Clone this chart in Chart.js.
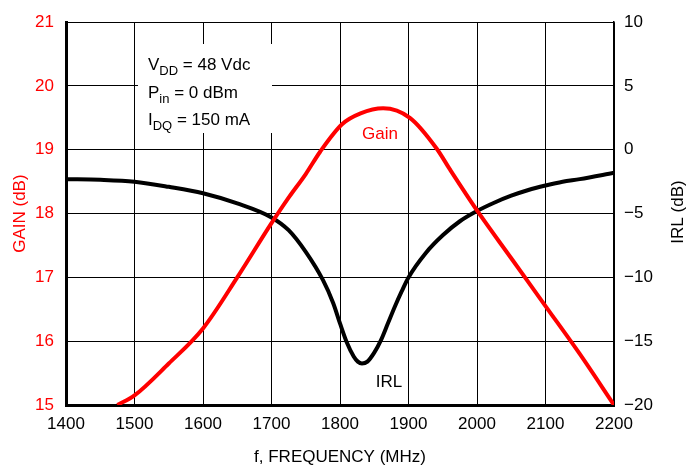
<!DOCTYPE html>
<html>
<head>
<meta charset="utf-8">
<script src="https://cdn.jsdelivr.net/npm/chart.js@4.4.1/dist/chart.umd.min.js"></script>
<style>
  html, body { margin: 0; padding: 0; background: #fff; }
  #wrap { width: 689px; height: 468px; }
</style>
</head>
<body>
<div id="wrap"><canvas id="chart" width="689" height="468"></canvas></div>
<script>
// Frequency ticks (MHz)
const freqTicks = [1400, 1500, 1600, 1700, 1800, 1900, 2000, 2100, 2200];

// Gain curve (dB)
const gainFreq = [1475, 1500, 1550, 1600, 1650, 1700, 1725, 1750, 1771, 1803, 1830, 1863, 1902, 1941, 1960, 2000, 2050, 2100, 2150, 2200];
const gainVals = [15.0, 15.15, 15.65, 16.2, 17.0, 17.85, 18.25, 18.62, 18.97, 19.4, 19.57, 19.65, 19.5, 19.02, 18.7, 18.05, 17.3, 16.55, 15.8, 15.0];

// IRL curve (dB)
const irlFreq = [1400, 1450, 1500, 1550, 1600, 1650, 1700, 1725, 1750, 1775, 1790, 1800, 1810, 1820, 1826, 1832, 1840, 1850, 1860, 1870, 1880, 1890, 1900, 1925, 1950, 1975, 2000, 2025, 2050, 2075, 2100, 2125, 2150, 2200];
const irlVals = [-2.3, -2.35, -2.5, -2.9, -3.4, -4.2, -5.3, -6.3, -8.0, -10.2, -12.0, -13.6, -15.1, -16.2, -16.6, -16.75, -16.6, -15.9, -14.9, -13.6, -12.3, -11.1, -10.0, -8.1, -6.7, -5.6, -4.8, -4.15, -3.6, -3.15, -2.8, -2.5, -2.3, -1.8];

const FONT = "'Liberation Sans', Arial, sans-serif";

function pts(xs, ys) {
  return xs.map((x, i) => ({ x: x, y: ys[i] }));
}

// Notes, labels and the right-hand title
const notes = {
  id: "notes",
  beforeDatasetsDraw(chart) {
    const c = chart.ctx;
    c.save();
    c.fillStyle = "#fff";
    c.fillRect(138, 44, 134, 89);
    c.restore();
  },
  afterDraw(chart) {
    const c = chart.ctx;
    c.save();
    c.fillStyle = "#000";
    c.textBaseline = "alphabetic";
    const lines = [["V", "DD", " = 48 Vdc", 70], ["P", "in", " = 0 dBm", 98], ["I", "DQ", " = 150 mA", 125]];
    lines.forEach(l => {
      let x = 148;
      c.font = "17px " + FONT;
      c.fillText(l[0], x, l[3]);
      x += c.measureText(l[0]).width;
      c.font = "13px " + FONT;
      c.fillText(l[1], x, l[3] + 5);
      x += c.measureText(l[1]).width;
      c.font = "17px " + FONT;
      c.fillText(l[2], x, l[3]);
    });
    c.textAlign = "center";
    c.fillStyle = "#ff0000";
    c.fillText("Gain", 380, 139);
    c.fillStyle = "#000";
    c.fillText("IRL", 389, 387);
    // right title, reading bottom to top
    c.translate(678, 212);
    c.rotate(-Math.PI / 2);
    c.textBaseline = "middle";
    c.fillText("IRL (dB)", 0, 0);
    c.restore();
  }
};

new Chart(document.getElementById("chart"), {
  type: "line",
  data: {
    datasets: [
      {
        label: "Gain",
        data: pts(gainFreq, gainVals),
        yAxisID: "y",
        borderColor: "#ff0000",
        borderWidth: 4,
        pointRadius: 0,
        cubicInterpolationMode: "monotone",
        fill: false
      },
      {
        label: "IRL",
        data: pts(irlFreq, irlVals),
        yAxisID: "y1",
        borderColor: "#000",
        borderWidth: 4,
        pointRadius: 0,
        cubicInterpolationMode: "monotone",
        fill: false
      }
    ]
  },
  options: {
    responsive: false,
    animation: false,
    layout: { padding: { top: 20, left: 0, right: 0, bottom: 0 } },
    plugins: { legend: { display: false }, tooltip: { enabled: false } },
    scales: {
      x: {
        type: "linear",
        min: 1400, max: 2200,
        afterBuildTicks: s => { s.ticks = freqTicks.map(v => ({ value: v })); },
        afterFit: s => { s.height = 63; },
        grid: { color: "#000", lineWidth: 1, drawTicks: false },
        border: { color: "#000", width: 3 },
        ticks: { color: "#000", font: { family: FONT, size: 17 }, padding: 9, callback: v => String(v) },
        title: { display: true, text: "f, FREQUENCY (MHz)", color: "#000", font: { family: FONT, size: 17 }, padding: { top: 2, bottom: 0 } }
      },
      y: {
        position: "left",
        min: 15, max: 21,
        afterFit: s => { s.width = 66; },
        grid: { color: "#000", lineWidth: 1, drawTicks: false },
        border: { color: "#000", width: 3 },
        ticks: { stepSize: 1, color: "#ff0000", font: { family: FONT, size: 17 }, padding: 12 },
        title: { display: true, text: "GAIN (dB)", color: "#ff0000", font: { family: FONT, size: 17 }, padding: { top: 10, bottom: 0 } }
      },
      y1: {
        position: "right",
        min: -20, max: 10,
        afterFit: s => { s.width = 75; },
        grid: { drawOnChartArea: false, drawTicks: false },
        border: { color: "#000", width: 1.5 },
        ticks: { stepSize: 5, color: "#000", font: { family: FONT, size: 17 }, padding: 10,
          callback: v => v < 0 ? "\u2212" + Math.abs(v) : String(v) }
      }
    }
  },
  plugins: [notes]
});
</script>
</body>
</html>
